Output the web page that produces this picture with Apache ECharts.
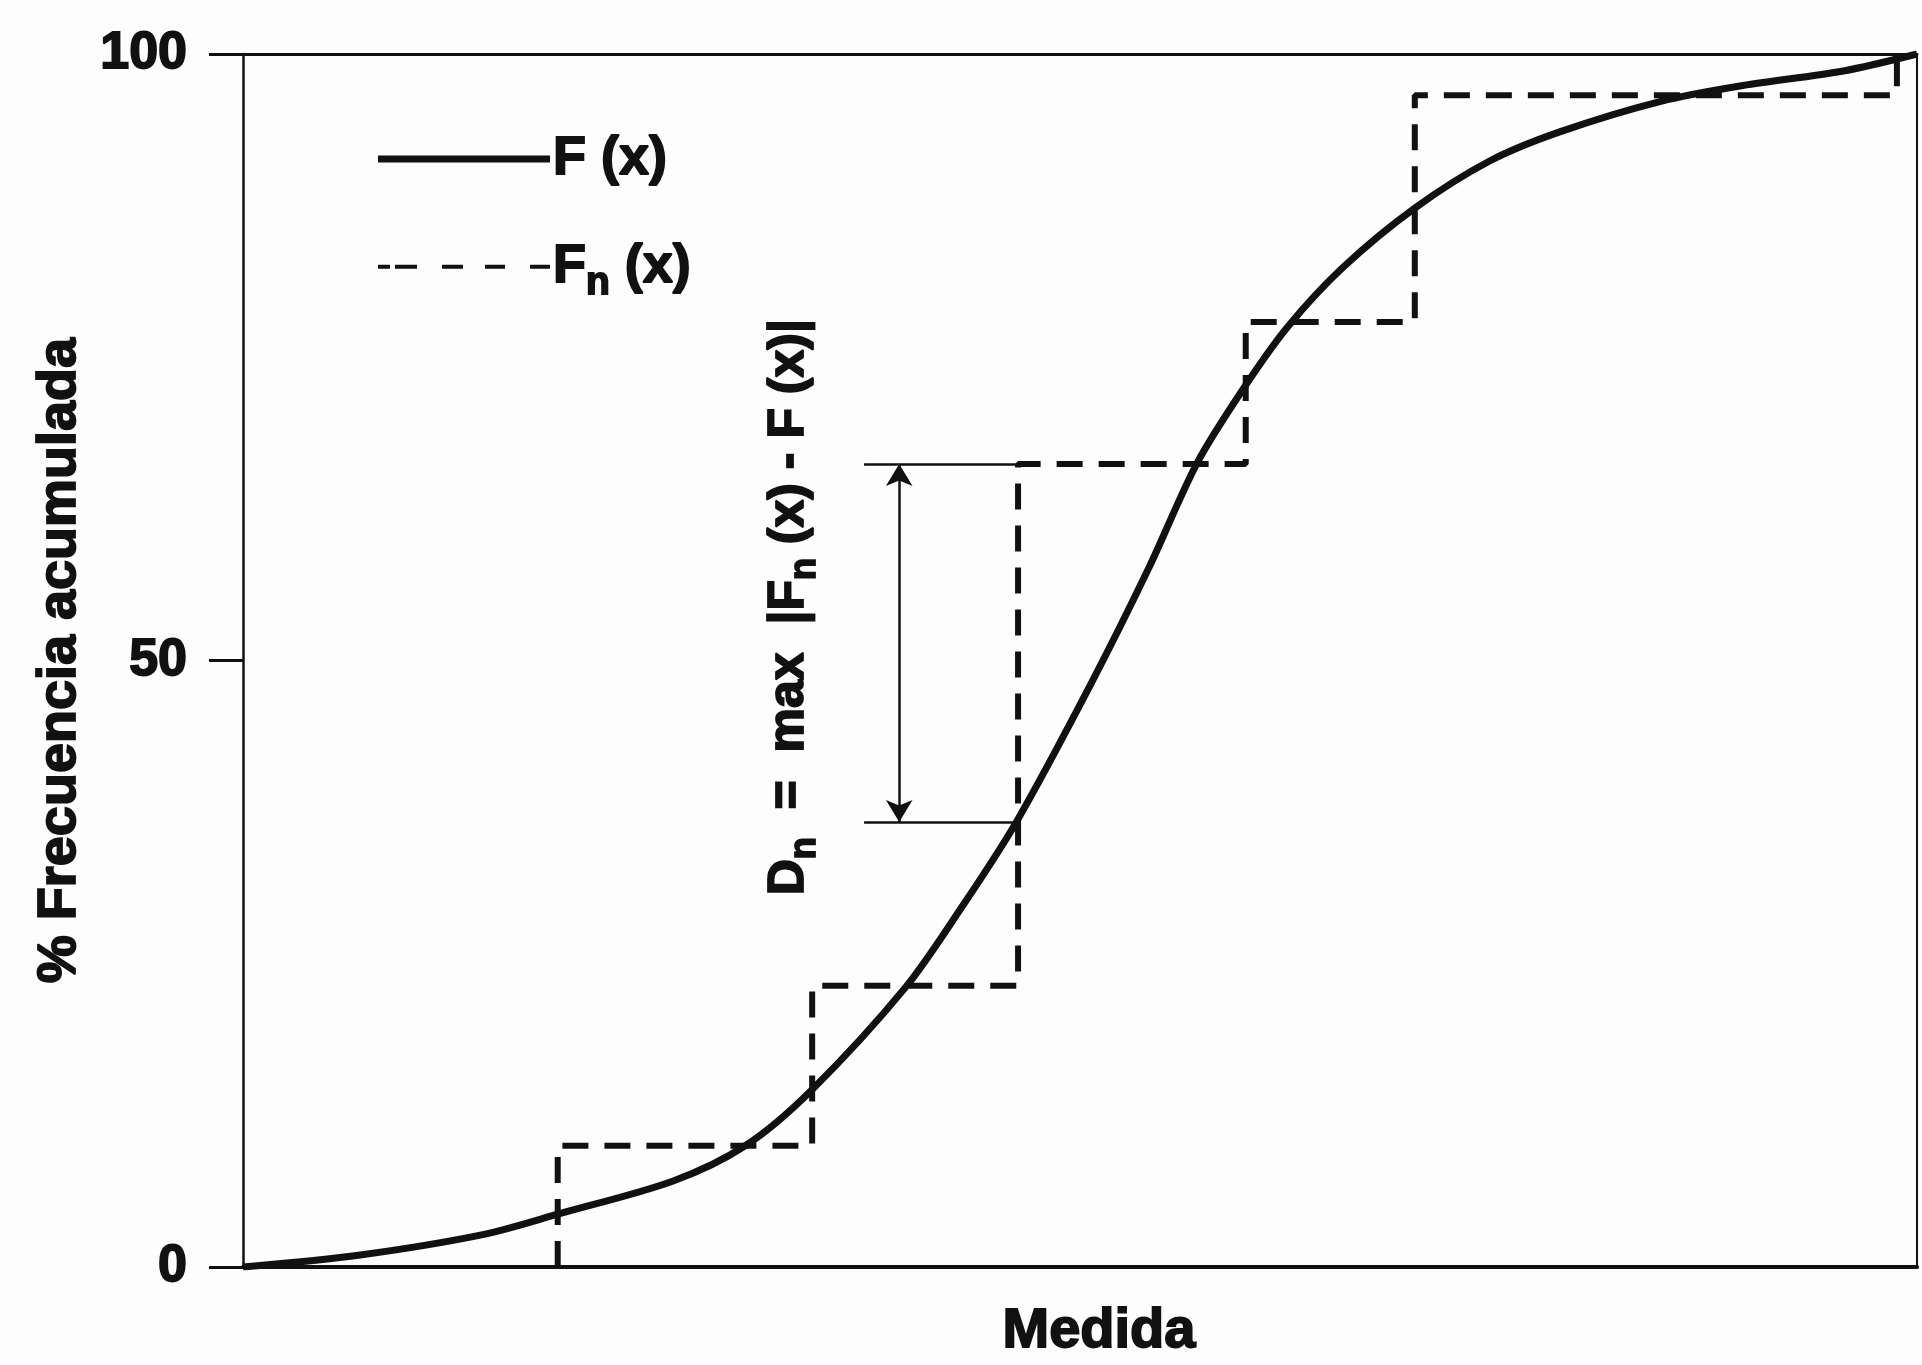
<!DOCTYPE html>
<html>
<head>
<meta charset="utf-8">
<script src="https://cdn.jsdelivr.net/npm/echarts@6/dist/echarts.min.js"></script>
<style>
  html, body { margin: 0; padding: 0; background: #fdfdfd; }
  #chart { width: 1922px; height: 1365px; }
</style>
</head>
<body>
<div id="chart"></div>
<script>
// Theoretical cumulative distribution F(x): measure (0-100) vs cumulative %
const fX = [0, 7.0, 14.4, 18.9, 25.7, 30.0, 33.9, 39.6, 42.9, 46.2, 50.7, 54.1, 57.0, 59.8, 62.4, 65.7, 70.0, 74.5, 78.7, 84.7, 89.6, 95.6, 100];
const fY = [0, 1.0, 2.7, 4.4, 7.1, 10.0, 14.5, 23.1, 29.6, 36.7, 48.2, 57.6, 66.3, 72.5, 77.5, 82.4, 87.3, 91.2, 93.6, 96.1, 97.4, 98.6, 100];

// Empirical distribution Fn(x): where each jump happens and the level reached
const stepX = [18.8, 34.0, 46.3, 59.9, 70.0, 98.8];
const stepLevel = [10, 23.2, 66.2, 77.9, 96.6, 100];

// Largest gap between Fn and F (at the third jump)
const dnX = 46.3;
const dnTop = 66.2;      // Fn just after the jump
const dnBottom = 36.7;   // F at the same point
const dnArrowX = 39.2;
const dnGuideFrom = 37.1;
const dnLabelAt = [32.6, 54.4];

// Axis
const yMin = 0, yMax = 100, yStep = 50;
const xMin = 0, xMax = 100;

const INK = '#111';
const FONT = '"Liberation Sans", Arial, Helvetica, sans-serif';

// Legend keys: a solid bar and a row of short dashes
const SOLID_KEY = 'path://M0,0h172v7h-172z';
const DASH_KEY = 'path://M0,0h12v4h-12z M17,0h22v4h-22z M64,0h21v4h-21z M107,0h20v4h-20z M152,0h20v4h-20z';

function richFor(size) {
  const sub = Math.round(size * 0.72);
  const base = {
    fontFamily: FONT, fontWeight: 'bold', color: INK,
    textBorderColor: INK, textBorderWidth: 1.8, opacity: 1
  };
  return {
    b: Object.assign({}, base, { fontSize: size, lineHeight: size, verticalAlign: 'top' }),
    s: Object.assign({}, base, {
      fontSize: sub, lineHeight: sub, verticalAlign: 'top',
      padding: [Math.round(size * 0.45), 0, 0, 0]
    })
  };
}

const fData = fX.map((x, i) => [x, fY[i]]);

const fnData = [];
let prev = 0;
stepX.forEach((x, i) => {
  fnData.push([x, prev], [x, stepLevel[i]]);
  prev = stepLevel[i];
});

const chart = echarts.init(document.getElementById('chart'), null, { renderer: 'canvas' });

const option = {
  backgroundColor: '#fdfdfd',
  animation: false,
  grid: { left: 243, right: 5, top: 54, bottom: 97, containLabel: false },
  legend: {
    orient: 'vertical',
    left: 373,
    top: 126,
    itemWidth: 172,
    itemHeight: 14,
    itemGap: 52,
    selectedMode: false,
    formatter: name => name === 'F' ? '{b|F (x)}' : '{b|F}{s|n}{b| (x)}',
    textStyle: { rich: richFor(54), padding: [0, 0, 0, -2] },
    data: [
      { name: 'F', icon: SOLID_KEY, itemStyle: { color: INK } },
      { name: 'Fn', icon: DASH_KEY, itemStyle: { color: INK } }
    ]
  },
  xAxis: [
    {
      type: 'value', min: xMin, max: xMax, position: 'bottom',
      axisLine: { show: true, onZero: false, lineStyle: { color: INK, width: 4 } },
      axisTick: { show: false }, axisLabel: { show: false }, splitLine: { show: false },
      name: 'Medida', nameLocation: 'middle', nameGap: 36,
      nameTextStyle: {
        fontFamily: FONT, fontWeight: 'bold', fontSize: 56, color: INK,
        textBorderColor: INK, textBorderWidth: 1.8, padding: [0, 0, 0, 38]
      }
    },
    {
      type: 'value', min: xMin, max: xMax, position: 'top',
      axisLine: { show: true, onZero: false, lineStyle: { color: INK, width: 3 } },
      axisTick: { show: false }, axisLabel: { show: false }, splitLine: { show: false }
    }
  ],
  yAxis: [
    {
      type: 'value', min: yMin, max: yMax, interval: yStep, position: 'left',
      axisLine: { show: true, onZero: false, lineStyle: { color: INK, width: 2.5 } },
      axisTick: { show: true, length: 34, lineStyle: { color: INK, width: 3 } },
      axisLabel: {
        margin: 56, fontFamily: FONT, fontWeight: 'bold', fontSize: 52, color: INK,
        textBorderColor: INK, textBorderWidth: 1.8
      },
      splitLine: { show: false },
      name: '% Frecuencia acumulada', nameLocation: 'middle', nameGap: 142, nameRotate: 90,
      nameTextStyle: {
        fontFamily: FONT, fontWeight: 'bold', fontSize: 54, color: INK,
        textBorderColor: INK, textBorderWidth: 1.8
      }
    },
    {
      type: 'value', min: yMin, max: yMax, position: 'right',
      axisLine: { show: true, onZero: false, lineStyle: { color: INK, width: 2 } },
      axisTick: { show: false }, axisLabel: { show: false }, splitLine: { show: false }
    }
  ],
  series: [
    {
      name: 'F', type: 'line', data: fData,
      smooth: 0.3,
      symbol: 'none', silent: true,
      itemStyle: { color: INK },
      lineStyle: { color: INK, width: 7 },
      z: 3
    },
    {
      name: 'Fn', type: 'line', data: fnData,
      symbol: 'none', silent: true,
      itemStyle: { color: INK },
      lineStyle: { color: INK, width: 6, type: [26, 16], cap: 'butt' },
      z: 2
    },
    {
      name: 'Dn', type: 'line', data: [], silent: true,
      markLine: {
        silent: true, animation: false,
        symbol: 'none',
        label: { show: false },
        lineStyle: { color: INK, width: 2.5, type: 'solid' },
        emphasis: { disabled: true },
        data: [
          [{ coord: [dnGuideFrom, dnTop] }, { coord: [dnX, dnTop] }],
          [{ coord: [dnGuideFrom, dnBottom] }, { coord: [dnX, dnBottom] }],
          [
            { coord: [dnArrowX, dnTop], symbol: 'arrow', symbolSize: [20, 22] },
            { coord: [dnArrowX, dnBottom], symbol: 'arrow', symbolSize: [20, 22] }
          ]
        ]
      }
    },
    {
      name: 'DnLabel', type: 'scatter', data: [dnLabelAt], silent: true,
      symbol: 'rect', symbolSize: 1, itemStyle: { color: '#fdfdfd', opacity: 1 },
      label: {
        show: true, position: 'inside', rotate: 90,
        color: INK, textBorderColor: INK, textBorderWidth: 1.8, opacity: 1,
        formatter: '{b|D}{s|n}{b|  =  max  |F}{s|n}{b| (x) - F (x)|}',
        rich: richFor(50)
      },
      emphasis: { disabled: true },
      z: 5
    }
  ]
};

chart.setOption(option);
</script>
</body>
</html>
